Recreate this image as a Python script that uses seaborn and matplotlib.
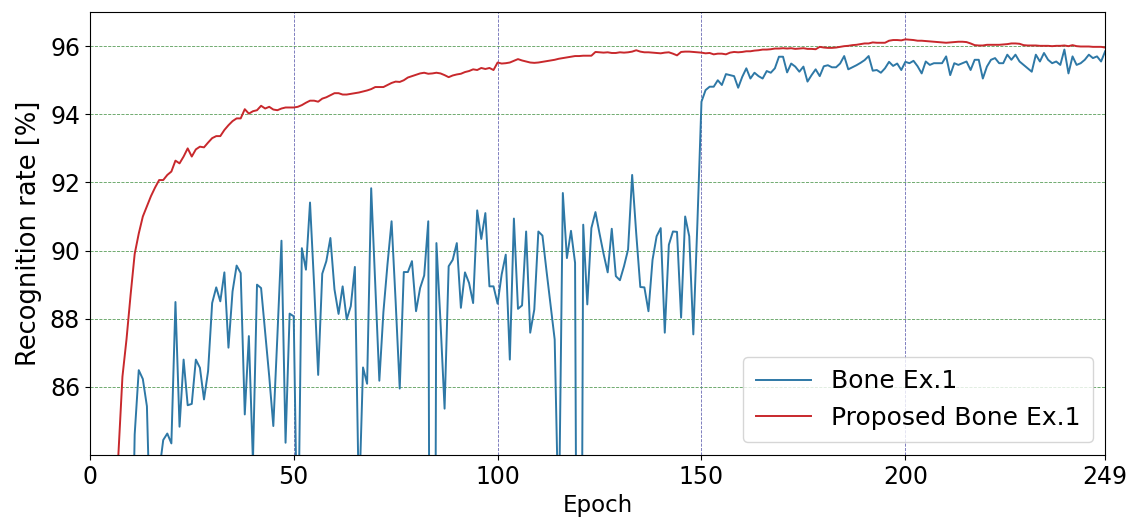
import seaborn as sns
import matplotlib.pyplot as plt
import pandas as pd
import numpy as np

# ---------------------------
# Data (epochs 0..249)
# ---------------------------
epochs = list(range(250))

bone_ex1 = [
    45.0, 52.0, 58.0, 63.0, 66.0, 70.0, 72.0, 74.0, 75.0, 77.0,
    78.0, 84.6, 86.49, 86.23, 85.43, 81.0, 80.0, 83.5, 84.44, 84.63,
    84.34, 88.49, 84.83, 86.8, 85.46, 85.5, 86.8, 86.56, 85.63, 86.46,
    88.46, 88.92, 88.51, 89.36, 87.15, 88.8, 89.56, 89.34, 85.19, 87.49,
    83.8, 89.0, 88.9, 87.6, 86.3, 84.85, 87.5, 90.29, 84.36, 88.15,
    88.07, 80.5, 90.07, 89.44, 91.41, 89.0, 86.35, 89.32, 89.69, 90.37,
    88.86, 88.14, 88.95, 87.98, 88.37, 89.52, 82.5, 86.57, 86.09, 91.83,
    89.0, 86.18, 88.2, 89.6, 90.86, 88.5, 85.95, 89.37, 89.37, 89.69,
    88.22, 88.9, 89.27, 90.86, 55.0, 90.22, 87.9, 85.36, 89.54, 89.73,
    90.22, 88.32, 89.36, 89.05, 88.46, 91.18, 90.34, 91.1, 88.95, 88.95,
    88.44, 89.3, 89.88, 86.8, 90.94, 88.29, 88.39, 90.56, 87.59, 88.27,
    90.56, 90.44, 89.4, 88.4, 87.39, 81.7, 91.69, 89.78, 90.58, 89.64,
    62.0, 90.76, 88.42, 90.66, 91.13, 90.5, 89.9, 89.36, 90.64, 89.25,
    89.13, 89.54, 90.03, 92.22, 90.5, 88.93, 88.92, 88.22, 89.73, 90.42,
    90.66, 87.59, 90.17, 90.56, 90.55, 88.03, 91.0, 90.42, 87.54, 90.81,
    94.37, 94.71, 94.81, 94.81, 95.0, 94.86, 95.18, 95.15, 95.12, 94.78,
    95.1, 95.35, 95.05, 95.22, 95.12, 95.05, 95.27, 95.22, 95.35, 95.69,
    95.69, 95.23, 95.49, 95.4, 95.25, 95.4, 94.96, 95.15, 95.32, 95.12,
    95.41, 95.44, 95.38, 95.38, 95.49, 95.71, 95.32, 95.38, 95.44, 95.51,
    95.59, 95.71, 95.28, 95.3, 95.22, 95.35, 95.54, 95.42, 95.49, 95.3,
    95.54, 95.5, 95.57, 95.41, 95.2, 95.55, 95.45, 95.5, 95.5, 95.5,
    95.7, 95.15, 95.5, 95.45, 95.5, 95.55, 95.3, 95.6, 95.6, 95.05,
    95.4, 95.6, 95.65, 95.5, 95.5, 95.75, 95.6, 95.75, 95.55, 95.45,
    95.35, 95.25, 95.75, 95.55, 95.8, 95.6, 95.5, 95.55, 95.45, 95.9,
    95.2, 95.7, 95.45, 95.5, 95.6, 95.75, 95.65, 95.7, 95.55, 95.85,
]

proposed_bone_ex1 = [
    70.0, 72.5, 74.8, 77.0, 79.0, 80.6, 82.2, 84.0, 86.3, 87.4,
    88.7, 89.9, 90.5, 91.0, 91.3, 91.6, 91.85, 92.07, 92.07, 92.22,
    92.32, 92.64, 92.56, 92.76, 93.0, 92.76, 92.97, 93.05, 93.03, 93.17,
    93.3, 93.36, 93.36, 93.54, 93.68, 93.8, 93.88, 93.88, 94.15, 94.02,
    94.09, 94.12, 94.25, 94.17, 94.22, 94.14, 94.12, 94.17, 94.2, 94.2,
    94.2, 94.22, 94.27, 94.34, 94.4, 94.4, 94.37, 94.46, 94.5, 94.56,
    94.62, 94.62, 94.58, 94.58, 94.6, 94.62, 94.64, 94.67, 94.7, 94.74,
    94.8, 94.8, 94.8, 94.86, 94.92, 94.96, 94.95, 95.0, 95.08, 95.12,
    95.16, 95.2, 95.22, 95.19, 95.2, 95.22, 95.2, 95.15, 95.09, 95.14,
    95.17, 95.19, 95.24, 95.27, 95.32, 95.3, 95.36, 95.33, 95.36, 95.3,
    95.52, 95.49, 95.5, 95.52, 95.57, 95.62, 95.58, 95.55, 95.52, 95.51,
    95.52, 95.54, 95.56, 95.58, 95.6, 95.63, 95.65, 95.67, 95.69, 95.71,
    95.71, 95.72, 95.72, 95.72, 95.83, 95.82, 95.81, 95.82, 95.8, 95.8,
    95.82, 95.81, 95.82, 95.84, 95.88, 95.84, 95.82, 95.82, 95.81, 95.8,
    95.79, 95.81, 95.82, 95.78, 95.73, 95.83, 95.84, 95.84, 95.83, 95.82,
    95.81, 95.79, 95.8, 95.76, 95.78, 95.78, 95.76, 95.81, 95.83, 95.82,
    95.83, 95.85, 95.85, 95.87, 95.88, 95.9, 95.9, 95.91, 95.93, 95.93,
    95.94, 95.93, 95.94, 95.92, 95.93, 95.94, 95.92, 95.92, 95.91, 95.98,
    95.96, 95.95, 95.95, 95.96, 95.98, 96.0, 96.01, 96.03, 96.04, 96.06,
    96.08, 96.08, 96.11, 96.1, 96.1, 96.1, 96.16, 96.18, 96.18, 96.17,
    96.2, 96.19, 96.18, 96.16, 96.16, 96.15, 96.14, 96.13, 96.12, 96.11,
    96.1, 96.11, 96.12, 96.13, 96.13, 96.12, 96.08, 96.03, 96.02, 96.02,
    96.04, 96.04, 96.04, 96.04, 96.05, 96.06, 96.08, 96.08, 96.07, 96.03,
    96.02, 96.02, 96.02, 96.01, 96.01, 96.01, 96.0, 96.01, 96.01, 96.02,
    96.0, 96.03, 96.0, 95.99, 95.99, 95.99, 95.98, 95.98, 95.98, 95.96,
]

series_names = ["Bone Ex.1", "Proposed Bone Ex.1"]
series_colors = ["#2e78a6", "#c8282c"]
x_ticks = [0, 50, 100, 150, 200, 249]
y_ticks = [86, 88, 90, 92, 94, 96]

df = pd.DataFrame({
    "Epoch": epochs * 2,
    "Rate": bone_ex1 + proposed_bone_ex1,
    "Model": [series_names[0]] * len(epochs) + [series_names[1]] * len(epochs),
})

# ---------------------------
# Visualization
# ---------------------------
fig, ax = plt.subplots(figsize=(11.37, 5.26), dpi=100)
fig.subplots_adjust(left=0.079, right=0.972, bottom=0.135, top=0.977)

sns.lineplot(
    data=df, x="Epoch", y="Rate", hue="Model",
    palette=dict(zip(series_names, series_colors)),
    linewidth=1.4, ax=ax,
)

ax.set_xlim(0, 249)
ax.set_ylim(84, 97)
ax.set_xticks(x_ticks)
ax.set_yticks(y_ticks)
ax.tick_params(labelsize=17)

# dashed grid: green horizontal, blue-ish vertical
ax.yaxis.grid(True, color="#5a9e5a", linestyle="--", linewidth=0.6)
ax.xaxis.grid(True, color="#6a6ab4", linestyle="--", linewidth=0.6)
ax.set_axisbelow(True)

ax.set_xlabel("Epoch", fontsize=16.5)
ax.set_ylabel("Recognition rate [%]", fontsize=18.5, labelpad=6)

ax.legend(loc="lower right", fontsize=18, borderpad=0.5, handlelength=2.2)

plt.savefig("out.png", dpi=100)
